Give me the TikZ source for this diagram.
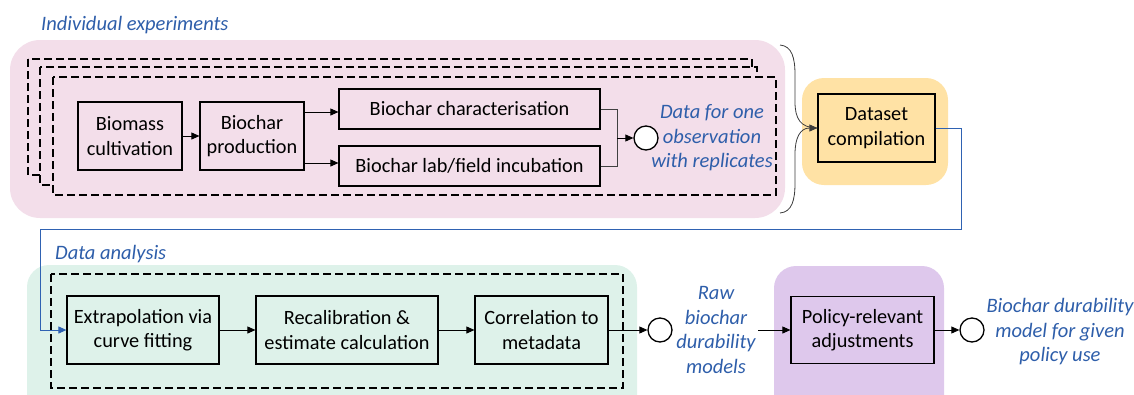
\documentclass[tikz,border=0pt]{standalone}
\usepackage{fontspec}
\setmainfont{Carlito}
\usetikzlibrary{arrows.meta,calc}
\definecolor{pinkbg}{RGB}{243,222,234}
\definecolor{yellowbg}{RGB}{255,226,165}
\definecolor{greenbg}{RGB}{222,242,234}
\definecolor{purplebg}{RGB}{222,200,236}
\definecolor{bluetx}{RGB}{46,94,170}
\definecolor{blueln}{RGB}{47,98,178}
\definecolor{braceln}{RGB}{60,60,60}
\tikzset{
  box/.style={draw, line width=1.2pt, align=center, inner sep=0pt, font=\fontsize{20.3}{24.3}\selectfont},
  note/.style={text=bluetx, font=\fontsize{20.5}{24.5}\selectfont\itshape, align=center, inner sep=0pt},
  arr/.style={-{Triangle[length=8pt,width=7pt]}, line width=0.8pt},
  thinln/.style={line width=0.8pt, draw=black!75},
  dframe/.style={draw, line width=1.4pt, dash pattern=on 8pt off 4pt},
  dot/.style={circle, draw, line width=1.3pt, minimum size=24pt, inner sep=0pt, fill=white},
}
\begin{document}
\begin{tikzpicture}[x=1pt,y=-1pt]
\useasboundingbox (0,0) rectangle (1134,394);
\clip (0,0) rectangle (1134,394);

% containers
\fill[pinkbg, rounded corners=30pt] (10,40) rectangle (785,218);
\fill[yellowbg, rounded corners=22pt] (802,78) rectangle (948,185);
\fill[greenbg, rounded corners=22pt] (27,265) rectangle (637,420);
\fill[purplebg, rounded corners=22pt] (774,266) rectangle (944,420);

% stacked dashed frames
\filldraw[dframe, fill=pinkbg] (28,59) rectangle (752,175);
\filldraw[dframe, fill=pinkbg] (40,67) rectangle (757,185);
\filldraw[dframe, fill=pinkbg] (53,77) rectangle (776,195);
\draw[dframe] (51,274) rectangle (623,388);

% titles
\node[note, anchor=base west] (t1) at (41,30) {Individual experiments};
\node[note, anchor=base west] (t2) at (55,259) {Data analysis};

% top row boxes
\node[box, minimum width=104pt, minimum height=68pt] (bm) at (130,136) {Biomass\\cultivation};
\node[box, minimum width=104pt, minimum height=68pt] (bp) at (252,136) {Biochar\\production};
\node[box, minimum width=261pt, minimum height=40pt] (bc) at (469.5,109) {Biochar characterisation};
\node[box, minimum width=261pt, minimum height=40pt] (bi) at (469.5,166) {Biochar lab/field incubation};
\node[dot] (c1) at (646,138) {};
\node[note] (n1) at (712,138) {Data for one\\observation\\with replicates};
\coordinate (j) at (617,138);

\draw[arr] (bm.east) -- (bp.west);
\draw[arr] (bp.east |- 0,112) -- (bc.west |- 0,112);
\draw[arr] (bp.east |- 0,163) -- (bi.west |- 0,163);
\draw[thinln] (bc.east) -| (j);
\draw[thinln] (bi.east) -| (j);
\draw[arr] (j) -- (c1.west);

% dataset compilation
\node[box, minimum width=117pt, minimum height=68pt] (dc) at (876.5,128) {Dataset\\compilation};

% brace
\coordinate (brt) at (780,45);
\coordinate (brb) at (780,213);
\draw[braceln, line width=0.8pt] (brt) .. controls (792,46) and (795,58) .. (795,75)
   -- (795,102) .. controls (795,118) and (800,128) .. (dc.west);
\draw[braceln, line width=0.8pt, -{Triangle[length=8pt,width=7pt]}] (brb) .. controls (792,212) and (795,200) .. (795,183)
   -- (795,154) .. controls (795,138) and (800,128) .. (dc.west);

% blue connector
\coordinate (b1) at (961,229);
\coordinate (b2) at (40,229);

% bottom row
\node[box, minimum width=152pt, minimum height=68pt] (ex) at (143,330) {Extrapolation via\\curve fitting};
\node[box, minimum width=182pt, minimum height=68pt] (rc) at (347,330) {Recalibration \&\\estimate calculation};
\node[box, minimum width=133pt, minimum height=68pt] (co) at (541.5,330) {Correlation to\\metadata};
\node[dot] (c2) at (660,330) {};
\node[note] (n2) at (716,330) {Raw\\biochar\\durability\\models};
\coordinate (rs) at (758,330);
\node[box, minimum width=143pt, minimum height=67pt] (pr) at (862.5,330) {Policy-relevant\\adjustments};
\node[dot] (c3) at (972,330) {};
\node[note] (n3) at (1060,332) {Biochar durability\\model for given\\policy use};

\draw[blueln, line width=1pt, -{Triangle[length=8pt,width=7pt]}] (dc.east) -| (b1) -- (b2) |- (ex.west);
\draw[arr] (ex.east) -- (rc.west);
\draw[arr] (rc.east) -- (co.west);
\draw[arr] (co.east) -- (c2.west);
\draw[arr] (rs) -- (pr.west);
\draw[arr] (pr.east) -- (c3.west);
\end{tikzpicture}
\end{document}
